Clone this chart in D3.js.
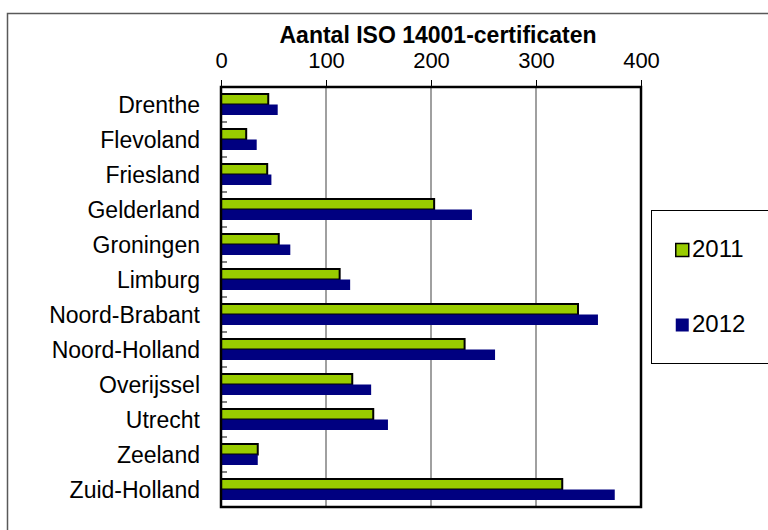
<!DOCTYPE html>
<html>
<head>
<meta charset="utf-8">
<script src="https://cdn.jsdelivr.net/npm/d3@7"></script>
<style>
  body { margin: 0; background: #fff; }
  svg { display: block; font-family: "Liberation Sans", Arial, sans-serif; }
</style>
</head>
<body>
<div id="chart"></div>
<script>
const PROVINCES = [
  "Drenthe", "Flevoland", "Friesland", "Gelderland", "Groningen", "Limburg",
  "Noord-Brabant", "Noord-Holland", "Overijssel", "Utrecht", "Zeeland", "Zuid-Holland",
];
const VALUES_2011 = [45, 24, 44, 203, 55, 113, 340, 232, 125, 145, 35, 325];
const VALUES_2012 = [54, 34, 48, 239, 66, 123, 359, 261, 143, 159, 35, 375];
const X_TICKS = [0, 100, 200, 300, 400];

const SERIES = [
  { key: "2011", label: "2011", color: "#99cc00", stroke: "#000", values: VALUES_2011 },
  { key: "2012", label: "2012", color: "#000080", stroke: "none", values: VALUES_2012 },
];

const WIDTH = 768;
const HEIGHT = 530;
const PLOT = { left: 221, right: 641, top: 87, bottom: 507 };

const svg = d3.select("#chart")
  .append("svg")
  .attr("width", WIDTH)
  .attr("height", HEIGHT);

// outer chart frame (runs off the right and bottom edge)
svg.append("rect")
  .attr("x", 7.5).attr("y", 13.5)
  .attr("width", 900).attr("height", 700)
  .attr("fill", "none")
  .attr("stroke", "#595959")
  .attr("stroke-width", 1.5);

const x = d3.scaleLinear().domain([0, 400]).range([PLOT.left, PLOT.right]);
const y = d3.scaleBand()
  .domain(PROVINCES)
  .range([PLOT.top, PLOT.bottom])
  .paddingInner(0.4)
  .paddingOuter(0.2);
const ySub = d3.scaleBand()
  .domain(SERIES.map((s) => s.key))
  .range([0, y.bandwidth()]);

// gridlines
svg.append("g")
  .selectAll("line")
  .data(X_TICKS.slice(1, -1))
  .join("line")
  .attr("x1", (d) => x(d)).attr("x2", (d) => x(d))
  .attr("y1", PLOT.top).attr("y2", PLOT.bottom)
  .attr("stroke", "#808080")
  .attr("stroke-width", 1.5);

// top axis
const xAxis = svg.append("g")
  .attr("transform", `translate(0,${PLOT.top})`)
  .call(d3.axisTop(x).tickValues(X_TICKS).tickSize(7).tickPadding(12));
xAxis.select(".domain").remove();
xAxis.selectAll(".tick line").attr("stroke", "#000").attr("stroke-width", 1);
xAxis.selectAll(".tick text")
  .attr("font-size", 22)
  .attr("font-family", "Liberation Sans, Arial, sans-serif")
  .attr("fill", "#000");

// bars
const groups = svg.append("g")
  .selectAll("g")
  .data(SERIES)
  .join("g");

groups.selectAll("rect")
  .data((s) => s.values.map((v, i) => ({ s, v, cat: PROVINCES[i] })))
  .join("rect")
  .attr("x", x(0))
  .attr("y", (d) => y(d.cat) + ySub(d.s.key))
  .attr("width", (d) => x(d.v) - x(0))
  .attr("height", ySub.bandwidth())
  .attr("fill", (d) => d.s.color)
  .attr("stroke", (d) => d.s.stroke)
  .attr("stroke-width", 2);

// category ticks (inside, at band boundaries)
const step = y.step();
svg.append("g")
  .selectAll("line")
  .data(PROVINCES.slice(1))
  .join("line")
  .attr("x1", x(0)).attr("x2", x(0) + 6)
  .attr("y1", (d) => y(d) - step * 0.2)
  .attr("y2", (d) => y(d) - step * 0.2)
  .attr("stroke", "#000")
  .attr("stroke-width", 1);

// category labels
svg.append("g")
  .selectAll("text")
  .data(PROVINCES)
  .join("text")
  .attr("x", 200)
  .attr("y", (d) => y(d) + y.bandwidth() / 2 + 8)
  .attr("text-anchor", "end")
  .attr("font-size", 23)
  .text((d) => d);

// plot frame
svg.append("rect")
  .attr("x", PLOT.left).attr("y", PLOT.top)
  .attr("width", PLOT.right - PLOT.left)
  .attr("height", PLOT.bottom - PLOT.top)
  .attr("fill", "none")
  .attr("stroke", "#000")
  .attr("stroke-width", 2.5);

// title
svg.append("text")
  .attr("x", 438)
  .attr("y", 43)
  .attr("text-anchor", "middle")
  .attr("font-size", 23)
  .attr("font-weight", "bold")
  .text("Aantal ISO 14001-certificaten");

// legend
const legend = svg.append("g");
legend.append("rect")
  .attr("x", 651.5).attr("y", 210.5)
  .attr("width", 200).attr("height", 153)
  .attr("fill", "#fff")
  .attr("stroke", "#000")
  .attr("stroke-width", 1);

const legendRow = legend.selectAll(".legend-item")
  .data(SERIES)
  .join("g")
  .attr("class", "legend-item")
  .attr("transform", (_, i) => `translate(675, ${257 + i * 75})`);

legendRow.append("rect")
  .attr("x", 0.75).attr("y", -13.5)
  .attr("width", 13).attr("height", 13)
  .attr("fill", (d) => d.color)
  .attr("stroke", (d) => d.stroke)
  .attr("stroke-width", 1.5);

legendRow.append("text")
  .attr("x", 17)
  .attr("y", 0)
  .attr("font-size", 24)
  .text((d) => d.label);
</script>
</body>
</html>
